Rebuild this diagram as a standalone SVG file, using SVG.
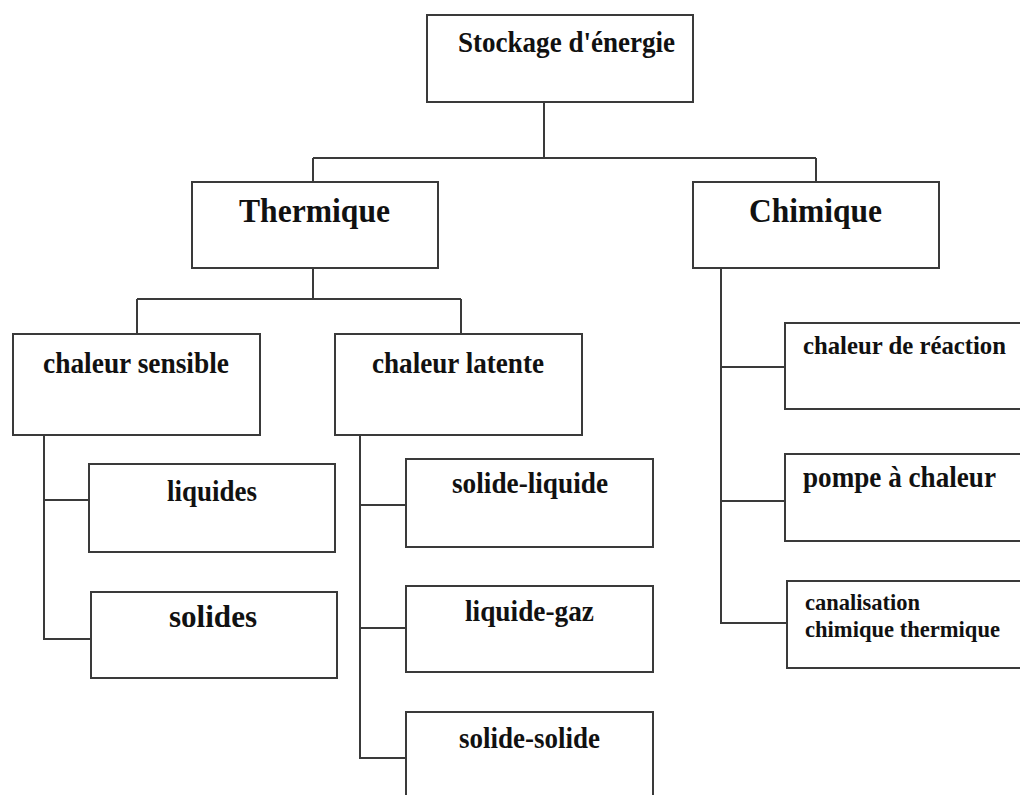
<svg xmlns="http://www.w3.org/2000/svg" width="1020" height="795" viewBox="0 0 1020 795">
<style>
.box{fill:#fff;stroke:#3a3a3a;stroke-width:2}
.ln{fill:none;stroke:#3a3a3a;stroke-width:2}
text{font-family:"Liberation Serif","Times New Roman",serif;font-weight:bold;fill:#111}
</style>
<rect width="1020" height="795" fill="#fff"/>
<g id="connectors">
<path class="ln" d="M544,102 V158 M313,158 H816 M313,158 V182 M816,158 V182"/>
<path class="ln" d="M313,268 V299 M137,299 H461 M137,299 V334 M461,299 V334"/>
<path class="ln" d="M44,435 V639 H91 M44,500 H89"/>
<path class="ln" d="M360,435 V758 H406 M360,505 H406 M360,628 H406"/>
<path class="ln" d="M721,268 V623 H787 M721,367 H785 M721,501 H785"/>
</g>
<g id="stockage"><rect class="box" x="427" y="15" width="266" height="87"/><text x="458" y="52" font-size="29" textLength="217" lengthAdjust="spacingAndGlyphs">Stockage d'énergie</text></g>
<g id="thermique"><rect class="box" x="192" y="182" width="246" height="86"/><text x="239" y="222" font-size="33" textLength="151" lengthAdjust="spacingAndGlyphs">Thermique</text></g>
<g id="chimique"><rect class="box" x="693" y="182" width="246" height="86"/><text x="749" y="222" font-size="33" textLength="133" lengthAdjust="spacingAndGlyphs">Chimique</text></g>
<g id="chaleur-sensible"><rect class="box" x="13" y="334" width="247" height="101"/><text x="43" y="373" font-size="29" textLength="186" lengthAdjust="spacingAndGlyphs">chaleur sensible</text></g>
<g id="chaleur-latente"><rect class="box" x="335" y="334" width="247" height="101"/><text x="372" y="373" font-size="29" textLength="172" lengthAdjust="spacingAndGlyphs">chaleur latente</text></g>
<g id="liquides"><rect class="box" x="89" y="464" width="246" height="88"/><text x="167" y="501" font-size="29" textLength="90" lengthAdjust="spacingAndGlyphs">liquides</text></g>
<g id="solides"><rect class="box" x="91" y="592" width="246" height="86"/><text x="169" y="627" font-size="32" textLength="88" lengthAdjust="spacingAndGlyphs">solides</text></g>
<g id="solide-liquide"><rect class="box" x="406" y="459" width="247" height="88"/><text x="452" y="493" font-size="29" textLength="156" lengthAdjust="spacingAndGlyphs">solide-liquide</text></g>
<g id="liquide-gaz"><rect class="box" x="406" y="586" width="247" height="86"/><text x="465" y="621" font-size="29" textLength="129" lengthAdjust="spacingAndGlyphs">liquide-gaz</text></g>
<g id="solide-solide"><rect class="box" x="406" y="712" width="247" height="100"/><text x="459" y="748" font-size="29" textLength="141" lengthAdjust="spacingAndGlyphs">solide-solide</text></g>
<g id="chaleur-reaction"><rect class="box" x="785" y="323" width="250" height="86"/><text x="803" y="354" font-size="26" textLength="203" lengthAdjust="spacingAndGlyphs">chaleur de réaction</text></g>
<g id="pompe-chaleur"><rect class="box" x="785" y="454" width="250" height="87"/><text x="803" y="487" font-size="29" textLength="193" lengthAdjust="spacingAndGlyphs">pompe à chaleur</text></g>
<g id="canalisation"><rect class="box" x="787" y="581" width="250" height="87"/><text x="805" y="610" font-size="23" textLength="115" lengthAdjust="spacingAndGlyphs">canalisation</text><text x="805" y="637" font-size="23" textLength="195" lengthAdjust="spacingAndGlyphs">chimique thermique</text></g>
</svg>
